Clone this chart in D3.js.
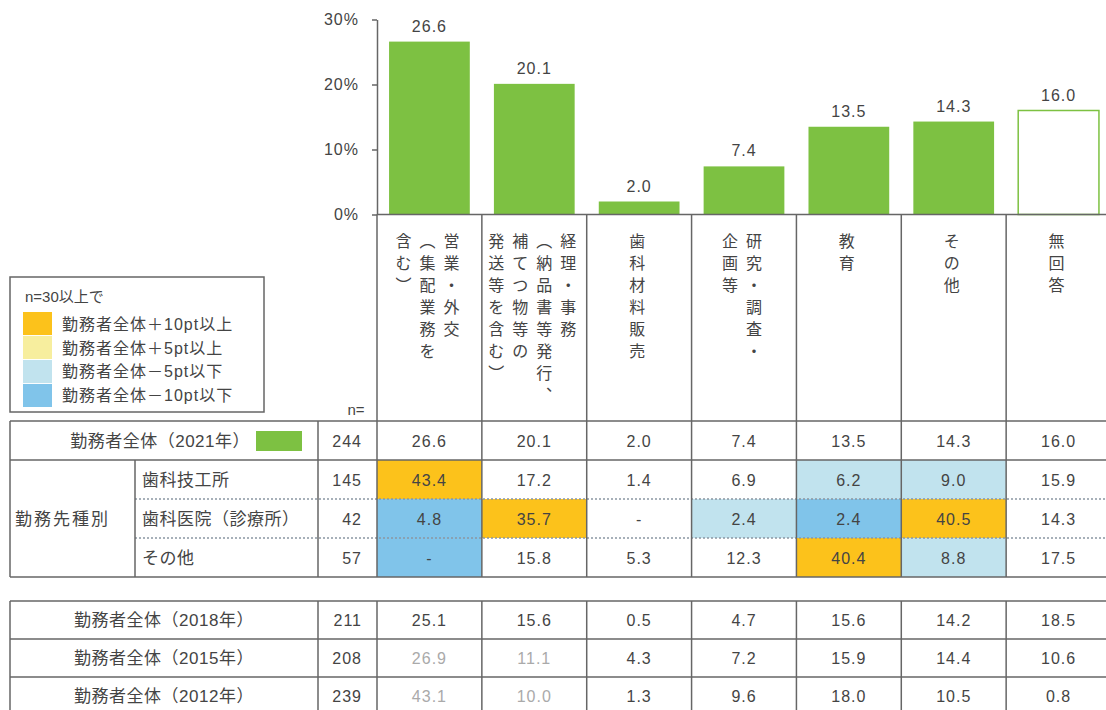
<!DOCTYPE html>
<html>
<head>
<meta charset="utf-8">
<script src="https://cdn.jsdelivr.net/npm/d3@7"></script>
<style>
body { margin: 0; background: #fff; }
text { font-family: "Liberation Sans", Arial, "Noto Sans CJK JP", sans-serif; fill: #444; }
.num { font-size: 16px; letter-spacing: 1px; }
.lbl { font-size: 17px; letter-spacing: 0.5px; }
</style>
</head>
<body>
<div id="chart"></div>
<script>
// data
const categories = ["営業・外交（集配業務を含む）", "経理・事務（納品書等発行、補てつ物等の発送等を含む）",
    "歯科材料販売", "研究・調査・企画等", "教育", "その他", "無回答"];
// vertical label columns, right to left
const labelLines = [
    ["営業・外交", "︵集配業務を", "含む︶"],
    ["経理・事務", "︵納品書等発行︑", "補てつ物等の", "発送等を含む︶"],
    ["歯科材料販売"],
    ["研究・調査・", "企画等"],
    ["教育"],
    ["その他"],
    ["無回答"]
];
const overallLabel = "勤務者全体（2021年）";
const overallN = 244;
const overall = [26.6, 20.1, 2.0, 7.4, 13.5, 14.3, 16.0];

const groupLabel = "勤務先種別";
const segNames = ["歯科技工所", "歯科医院（診療所）", "その他"];
const segN = [145, 42, 57];
const segValues = [
    [43.4, 17.2, 1.4, 6.9, 6.2, 9.0, 15.9],
    [4.8, 35.7, null, 2.4, 2.4, 40.5, 14.3],
    [null, 15.8, 5.3, 12.3, 40.4, 8.8, 17.5]
];

const pastNames = ["勤務者全体（2018年）", "勤務者全体（2015年）", "勤務者全体（2012年）"];
const pastN = [211, 208, 239];
const pastValues = [
    [25.1, 15.6, 0.5, 4.7, 15.6, 14.2, 18.5],
    [26.9, 11.1, 4.3, 7.2, 15.9, 14.4, 10.6],
    [43.1, 10.0, 1.3, 9.6, 18.0, 10.5, 0.8]
];
// cells not directly comparable (shown in grey): [pastRow, column]
const greyCells = [[1, 0], [1, 1], [2, 0], [2, 1]];

const yTicks = [0, 10, 20, 30];
const legendTitle = "n=30以上で";
const legendItems = ["勤務者全体＋10pt以上", "勤務者全体＋5pt以上", "勤務者全体－5pt以下", "勤務者全体－10pt以下"];

// styles
const green = "#7dc142";
const hiColors = ["#fcc21b", "#f7ee9e", "#c1e3ee", "#80c4ea"];
const lineColor = "#666";

// layout
const width = 1106, height = 710;
const tableL = 10, subX = 135, nX = 318, plotL = 377, plotR = 1111;
const t1Top = 421, rowH = 39;
const t2Top = 601, row2H = 38;

const svg = d3.select("#chart").append("svg")
    .attr("width", width)
    .attr("height", height);

const y = d3.scaleLinear().domain([0, 30]).range([214.5, 19.5]);
const colX = d3.scaleBand().domain(categories).range([plotL, plotR]);
const barX = d3.scaleBand().domain(categories).range([plotL, plotR])
    .paddingInner(0.23).paddingOuter(0.115);
const step = colX.bandwidth();

function fmt(v) { return v == null ? "-" : v.toFixed(1); }

function cellColor(v, base, n) {
    if (n < 30) return null;
    const d = Math.round(((v == null ? 0 : v) - base) * 10) / 10;
    if (d >= 10) return hiColors[0];
    if (d >= 5) return hiColors[1];
    if (d <= -10) return hiColors[3];
    if (d <= -5) return hiColors[2];
    return null;
}

//bars
svg.append("g")
    .selectAll("rect")
    .data(overall)
    .enter()
    .append("rect")
    .attr("x", (d, i) => barX(categories[i]))
    .attr("y", d => y(d))
    .attr("width", barX.bandwidth())
    .attr("height", d => y(0) - y(d))
    .attr("fill", (d, i) => i == categories.length - 1 ? "#fff" : green)
    .attr("stroke", (d, i) => i == categories.length - 1 ? green : "none")
    .attr("stroke-width", 1.5);

svg.append("g")
    .selectAll("text")
    .data(overall)
    .enter()
    .append("text")
    .attr("class", "num")
    .attr("x", (d, i) => barX(categories[i]) + barX.bandwidth() / 2)
    .attr("y", d => y(d) - 10)
    .attr("text-anchor", "middle")
    .text(d => d.toFixed(1));

//axis
let y_axis = svg.append("g")
    .attr("transform", "translate(" + plotL + ",0)")
    .call(d3.axisLeft(y).tickValues(yTicks).tickSize(5).tickSizeOuter(0).tickPadding(13)
        .tickFormat(d => d + "%"));
y_axis.select(".domain").attr("stroke", lineColor).attr("stroke-width", 1.5);
y_axis.selectAll(".tick line").attr("stroke", lineColor).attr("stroke-width", 1.5);
y_axis.selectAll(".tick text")
    .attr("class", "num")
    .style("font-family", "'Liberation Sans', Arial, sans-serif")
    .attr("fill", "#555");

svg.append("line")
    .attr("x1", plotL).attr("x2", plotR)
    .attr("y1", y(0)).attr("y2", y(0))
    .attr("stroke", lineColor).attr("stroke-width", 1.5);

// category labels (vertical)
const catG = svg.append("g");
labelLines.forEach((lines, i) => {
    const cx = colX(categories[i]) + step / 2;
    lines.forEach((ln, j) => {
        const lx = cx - 2 + ((lines.length - 1) / 2 - j) * 24;
        Array.from(ln).forEach((ch, k) => {
            catG.append("text")
                .attr("x", lx)
                .attr("y", 240 + k * 22)
                .attr("text-anchor", "middle")
                .attr("dominant-baseline", "central")
                .style("font-size", "16px")
                .style("font-family", "'Noto Sans CJK JP', sans-serif")
                .text(ch);
        });
    });
});
// column dividers in the label area
svg.append("g")
    .selectAll("line")
    .data(categories.slice(1).concat([null]))
    .enter()
    .append("line")
    .attr("x1", d => d == null ? plotR : colX(d))
    .attr("x2", d => d == null ? plotR : colX(d))
    .attr("y1", y(0)).attr("y2", t1Top)
    .attr("stroke", lineColor).attr("stroke-width", 1.5);
svg.append("line")
    .attr("x1", plotL).attr("x2", plotL)
    .attr("y1", y(0)).attr("y2", t1Top)
    .attr("stroke", lineColor).attr("stroke-width", 1.5);

svg.append("text")
    .attr("x", 356).attr("y", 415)
    .attr("text-anchor", "middle")
    .style("font-size", "15px")
    .text("n=");

// legend
svg.append("rect")
    .attr("x", tableL).attr("y", 277)
    .attr("width", 254).attr("height", 135)
    .attr("fill", "#fff")
    .attr("stroke", lineColor).attr("stroke-width", 1.5);
svg.append("text")
    .attr("x", 25).attr("y", 302)
    .style("font-size", "15px")
    .text(legendTitle);
const legRow = d3.scaleBand().domain(legendItems).range([312, 407]).paddingInner(0.04);
svg.append("g")
    .selectAll("rect")
    .data(legendItems)
    .enter()
    .append("rect")
    .attr("x", 23).attr("y", d => legRow(d))
    .attr("width", 29).attr("height", legRow.bandwidth())
    .attr("fill", (d, i) => hiColors[i]);
svg.append("g")
    .selectAll("text")
    .data(legendItems)
    .enter()
    .append("text")
    .attr("x", 62).attr("y", d => legRow(d) + legRow.bandwidth() / 2 + 6)
    .style("font-size", "16px")
    .style("letter-spacing", "1px")
    .text(d => d);

// table 1
const t1 = svg.append("g");
const segRowY = i => t1Top + rowH * (i + 1);

// cell fills
segValues.forEach((vals, r) => {
    vals.forEach((v, c) => {
        const col = cellColor(v, overall[c], segN[r]);
        if (col) {
            t1.append("rect")
                .attr("x", colX(categories[c])).attr("y", segRowY(r))
                .attr("width", step).attr("height", rowH)
                .attr("fill", col);
        }
    });
});

function valueRow(g, vals, n, top, h, greyCols) {
    g.append("text")
        .attr("class", "num")
        .attr("x", 362).attr("y", top + h / 2 + 6)
        .attr("text-anchor", "end")
        .text(n);
    vals.forEach((v, c) => {
        g.append("text")
            .attr("class", "num")
            .attr("x", colX(categories[c]) + step / 2)
            .attr("y", top + h / 2 + 6)
            .attr("text-anchor", "middle")
            .style("fill", greyCols.includes(c) ? "#aaa" : "#444")
            .text(fmt(v));
    });
}

// overall row
t1.append("text")
    .attr("class", "lbl")
    .attr("x", 250).attr("y", t1Top + rowH / 2 + 6)
    .attr("text-anchor", "end")
    .text(overallLabel);
t1.append("rect")
    .attr("x", 256).attr("y", t1Top + 10)
    .attr("width", 46).attr("height", 20)
    .attr("fill", green);
valueRow(t1, overall, overallN, t1Top, rowH, []);

t1.append("text")
    .attr("class", "lbl")
    .attr("x", 15).attr("y", segRowY(1) + rowH / 2 + 6)
    .style("letter-spacing", "2px")
    .text(groupLabel);
segNames.forEach((s, r) => {
    t1.append("text")
        .attr("class", "lbl")
        .attr("x", 142).attr("y", segRowY(r) + rowH / 2 + 6)
        .text(s);
    valueRow(t1, segValues[r], segN[r], segRowY(r), rowH, []);
});

function hLine(g, x1, x2, yy, dashed) {
    const l = g.append("line")
        .attr("x1", x1).attr("x2", x2).attr("y1", yy).attr("y2", yy)
        .attr("stroke", dashed ? "#8a97a3" : lineColor)
        .attr("stroke-width", 1.5);
    if (dashed) l.attr("stroke-dasharray", "2,2");
}
function vLine(g, xx, y1, y2) {
    g.append("line")
        .attr("x1", xx).attr("x2", xx).attr("y1", y1).attr("y2", y2)
        .attr("stroke", lineColor).attr("stroke-width", 1.5);
}

const t1Bottom = segRowY(segNames.length);
hLine(t1, subX, plotR, segRowY(1), true);
hLine(t1, subX, plotR, segRowY(2), true);
hLine(t1, tableL, plotR, t1Top, false);
hLine(t1, tableL, plotR, segRowY(0), false);
hLine(t1, tableL, plotR, t1Bottom, false);
vLine(t1, tableL, t1Top, t1Bottom);
vLine(t1, subX, segRowY(0), t1Bottom);
vLine(t1, nX, t1Top, t1Bottom);
vLine(t1, plotL, t1Top, t1Bottom);
categories.forEach(c => vLine(t1, colX(c) + step, t1Top, t1Bottom));

// table 2
const t2 = svg.append("g");
pastNames.forEach((s, r) => {
    const top = t2Top + r * row2H;
    t2.append("text")
        .attr("class", "lbl")
        .attr("x", (tableL + nX) / 2).attr("y", top + row2H / 2 + 6)
        .attr("text-anchor", "middle")
        .text(s);
    const greyCols = greyCells.filter(g => g[0] == r).map(g => g[1]);
    valueRow(t2, pastValues[r], pastN[r], top, row2H, greyCols);
    hLine(t2, tableL, plotR, top, false);
});
const t2Bottom = t2Top + pastNames.length * row2H;
hLine(t2, tableL, plotR, t2Bottom, false);
vLine(t2, tableL, t2Top, t2Bottom);
vLine(t2, nX, t2Top, t2Bottom);
vLine(t2, plotL, t2Top, t2Bottom);
categories.forEach(c => vLine(t2, colX(c) + step, t2Top, t2Bottom));
</script>
</body>
</html>
